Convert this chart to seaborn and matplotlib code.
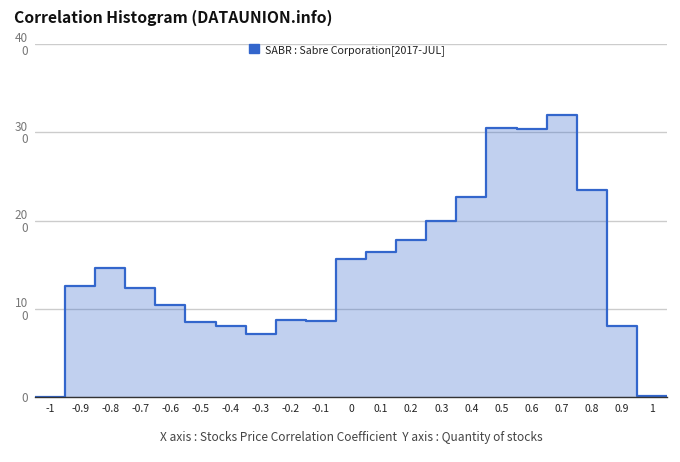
import matplotlib
matplotlib.use("Agg")
import matplotlib.pyplot as plt
from matplotlib.patches import Patch
import seaborn as sns
import pandas as pd
import numpy as np

# Chart data
coef = [-1.0, -0.9, -0.8, -0.7, -0.6, -0.5, -0.4, -0.3, -0.2, -0.1, 0.0,
        0.1, 0.2, 0.3, 0.4, 0.5, 0.6, 0.7, 0.8, 0.9, 1.0]
stocks = [0, 126, 146, 124, 104, 85, 81, 71, 87, 86, 156,
          164, 178, 200, 227, 305, 304, 319, 234, 80, 1]
y_ticks = [0, 100, 200, 300, 400]
y_tick_labels = ["0", "10\n0", "20\n0", "30\n0", "40\n0"]
x_tick_labels = ["-1", "-0.9", "-0.8", "-0.7", "-0.6", "-0.5", "-0.4", "-0.3", "-0.2", "-0.1", "0",
                 "0.1", "0.2", "0.3", "0.4", "0.5", "0.6", "0.7", "0.8", "0.9", "1"]
series_name = "SABR : Sabre Corporation[2017-JUL]"

df = pd.DataFrame({"coef": coef, "stocks": stocks})
edges = [round(c - 0.05, 2) for c in coef] + [1.05]

blue = "#3366CC"

sns.set_style("white")
plt.rcParams["font.family"] = ["Noto Sans CJK KR", "DejaVu Sans"]

fig = plt.figure(figsize=(6.8, 4.62), dpi=100)
ax = fig.add_axes([35 / 680, 1 - 397 / 462, 632 / 680, 353 / 462])

# filled area
sns.histplot(data=df, x="coef", weights="stocks", bins=edges, element="step",
             fill=True, color=blue, alpha=0.3, linewidth=0, ax=ax)
# outline
sns.histplot(data=df, x="coef", weights="stocks", bins=edges, element="step",
             fill=False, color=blue, linewidth=1.6, ax=ax)

ax.set_xlim(-1.05, 1.05)
ax.set_ylim(0, 400)
ax.set_yticks(y_ticks)
ax.set_yticklabels(y_tick_labels, fontsize=8.5, color="#777777", linespacing=0.95,
                   multialignment="right")
ax.set_xticks(coef)
ax.set_xticklabels(x_tick_labels, fontsize=7.5, color="#222222")
ax.tick_params(axis="both", length=0, pad=5)
ax.grid(axis="y", color="#cccccc", linewidth=1)
ax.set_axisbelow(True)
for s in ["top", "right", "left"]:
    ax.spines[s].set_visible(False)
ax.spines["bottom"].set_color("#333333")
ax.spines["bottom"].set_linewidth(1)
ax.set_ylabel("")
ax.set_xlabel("")

fig.text(14 / 680, 1 - 18 / 462, "Correlation Histogram (DATAUNION.info)",
         fontsize=11.3, fontweight="bold", color="#111111", va="center", ha="left")
fig.text(351 / 680, 1 - 437 / 462,
         "X axis : Stocks Price Correlation Coefficient  Y axis : Quantity of stocks",
         fontsize=8.6, color="#444444", va="center", ha="center")

fig.legend(handles=[Patch(facecolor=blue, edgecolor=blue)], labels=[series_name],
           loc="center", bbox_to_anchor=(347 / 680, 1 - 50 / 462), frameon=False,
           fontsize=7.7, handlelength=0.9, handleheight=0.9, handletextpad=0.6,
           labelcolor="#222222")

plt.savefig("out.png", dpi=100)
plt.close()
